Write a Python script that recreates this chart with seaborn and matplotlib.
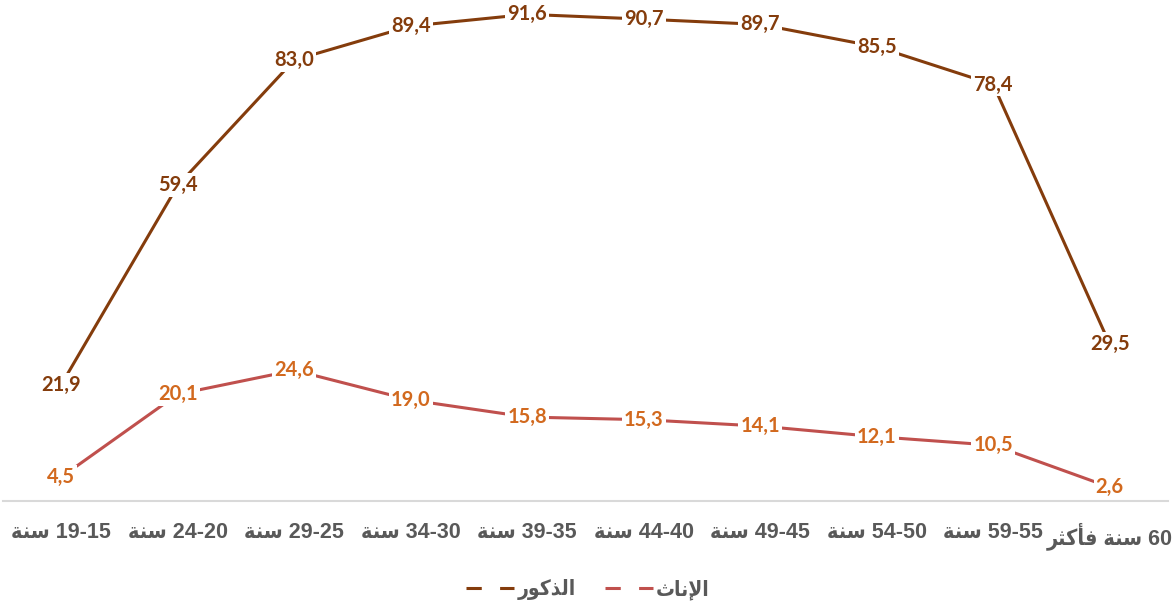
import matplotlib
matplotlib.use("Agg")
import matplotlib.pyplot as plt
from matplotlib.lines import Line2D
import seaborn as sns
import pandas as pd

# Arabic words pre-shaped (presentation forms) and written in visual (left-to-right) order
SANA = "\uFE94\uFEE8\uFEB3"                     # سنة
FAKTHAR = "\uFEAE\uFE9C\uFEDB\uFE84\uFED3"      # فأكثر
MALE = "\uFEAD\uFEEE\uFEDB\uFEAC\uFEDF\uFE8D"   # الذكور
FEMALE = "\uFE99\uFE8E\uFEE7\uFEF9\uFE8D"       # الإناث

categories = [SANA + " 19-15", SANA + " 24-20", SANA + " 29-25", SANA + " 34-30",
              SANA + " 39-35", SANA + " 44-40", SANA + " 49-45", SANA + " 54-50",
              SANA + " 59-55", FAKTHAR + " " + SANA + " 60"]
male_values = [21.9, 59.4, 83.0, 89.4, 91.6, 90.7, 89.7, 85.5, 78.4, 29.5]
female_values = [4.5, 20.1, 24.6, 19.0, 15.8, 15.3, 14.1, 12.1, 10.5, 2.6]
series_names = [MALE, FEMALE]

male_line = "#843C0C"
female_line = "#C0504D"
male_text = "#843C0C"
female_text = "#D2691E"

df = pd.DataFrame({
    "cat": categories * 2,
    "val": male_values + female_values,
    "sex": [MALE] * len(categories) + [FEMALE] * len(categories),
})

sns.set_theme(style="white")
plt.rcParams["font.family"] = ["Liberation Sans", "DejaVu Sans"]

fig = plt.figure(figsize=(11.74, 6.12), dpi=100)
ax = fig.add_axes([3 / 1174, 111 / 612, 1165 / 1174, 501 / 612])

sns.lineplot(data=df, x="cat", y="val", hue="sex", sort=False,
             palette={MALE: male_line, FEMALE: female_line},
             linewidth=2.2, legend=False, ax=ax, zorder=2)

label_font = dict(family=["Lato", "DejaVu Sans"], fontweight="bold", fontsize=14.5)
for vals, col in [(male_values, male_text), (female_values, female_text)]:
    for i, v in enumerate(vals):
        ax.text(i, v, f"{v:.1f}".replace(".", ","), ha="center", va="center",
                color=col, zorder=5,
                bbox=dict(boxstyle="square,pad=0.1", fc="white", ec="none"), **label_font)

ax.set_xlim(-0.5, len(categories) - 0.5)
ax.set_ylim(0, 94.3)
ax.set_xlabel("")
ax.set_ylabel("")
ax.set_yticks([])
ax.tick_params(axis="x", length=0, pad=15)
for lab in ax.get_xticklabels():
    lab.set_fontweight("bold")
    lab.set_fontsize(15.5)
    lab.set_fontstretch("condensed")
    lab.set_color("#595959")
    lab.set_family(["Liberation Sans", "DejaVu Sans"])
for s in ["left", "right", "top"]:
    ax.spines[s].set_visible(False)
ax.spines["bottom"].set_color("#D9D9D9")
ax.spines["bottom"].set_linewidth(1.5)
ax.spines["bottom"].set_zorder(1)

handles = [Line2D([0], [0], color=male_line, lw=2.2, dashes=(5, 6)),
           Line2D([0], [0], color=female_line, lw=2.2, dashes=(5, 6))]
leg = fig.legend(handles, series_names, loc="center", bbox_to_anchor=(588 / 1174, 1 - 590 / 612),
                 ncol=2, frameon=False, handlelength=2.3, handletextpad=0.15, columnspacing=1.4,
                 prop=dict(family=["Liberation Sans", "DejaVu Sans"], weight="bold", size=15,
                           stretch="condensed"))
for t in leg.get_texts():
    t.set_color("#595959")

fig.savefig("out.png", dpi=100, facecolor="white")
